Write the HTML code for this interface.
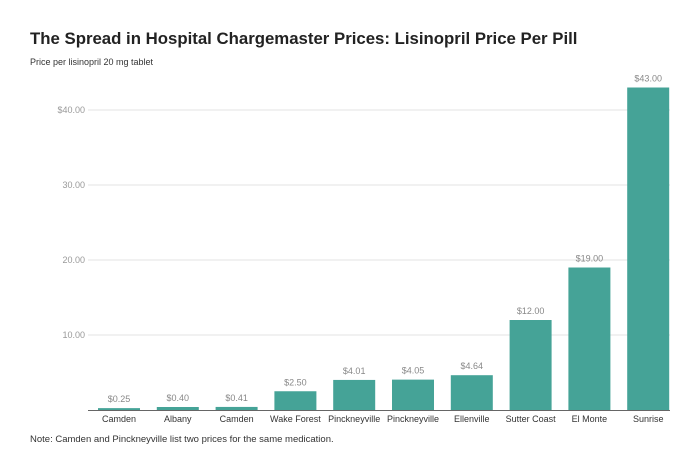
<!DOCTYPE html>
<html><head><meta charset="utf-8"><style>
body{margin:0;background:#fff;font-family:"Liberation Sans",Arial,sans-serif;}
</style></head><body>
<svg width="698" height="448" xmlns="http://www.w3.org/2000/svg">
<text x="30" y="44" font-size="16.8" font-weight="bold" fill="#222">The Spread in Hospital Chargemaster Prices: Lisinopril Price Per Pill</text>
<text x="30" y="65" font-size="9" fill="#333">Price per lisinopril 20 mg tablet</text>
<g id="grid"></g><g id="bars"></g>
<text x="30" y="442" font-size="9.5" fill="#333">Note: Camden and Pinckneyville list two prices for the same medication.</text>
</svg>
<script>
const categories=["Camden","Albany","Camden","Wake Forest","Pinckneyville","Pinckneyville","Ellenville","Sutter Coast","El Monte","Sunrise"];
const values=[0.25,0.40,0.41,2.50,4.01,4.05,4.64,12.00,19.00,43.00];
const valueLabels=["$0.25","$0.40","$0.41","$2.50","$4.01","$4.05","$4.64","$12.00","$19.00","$43.00"];
const ticks=[10,20,30,40];
const tickLabels=["10.00","20.00","30.00","$40.00"];
const NS="http://www.w3.org/2000/svg";
const y=v=>410-v*7.5;
const x=i=>119+i*58.8;
const g=document.getElementById('grid'),b=document.getElementById('bars');
function mk(p,tag,a,t){const e=document.createElementNS(NS,tag);for(const k in a)e.setAttribute(k,a[k]);if(t!==undefined)e.textContent=t;p.appendChild(e);return e;}
ticks.forEach((t,i)=>{
 const l=mk(g,'line',{x1:88,x2:670,y1:y(t),y2:y(t),stroke:'#e3e3e3','stroke-width':1});
 
 
 const tx=mk(g,'text',{x:85,y:y(t)+3,'font-size':9,fill:'#999','text-anchor':'end'},tickLabels[i]);
 
 
});
values.forEach((v,i)=>{
 const r=mk(b,'rect',{x:x(i)-21,y:y(v),width:42,height:v*7.5,fill:'#45a397'});
 
 
 const vl=mk(b,'text',{x:x(i),y:y(v)-6,'font-size':9,fill:'#888','text-anchor':'middle'},valueLabels[i]);
 
 
 const cl=mk(b,'text',{x:x(i),y:422,'font-size':9,fill:'#333','text-anchor':'middle'},categories[i]);
 
 
});
const ax=mk(b,'line',{x1:88,x2:670,y1:410.5,y2:410.5,stroke:'#666','stroke-width':1});


</script>
</body></html>
